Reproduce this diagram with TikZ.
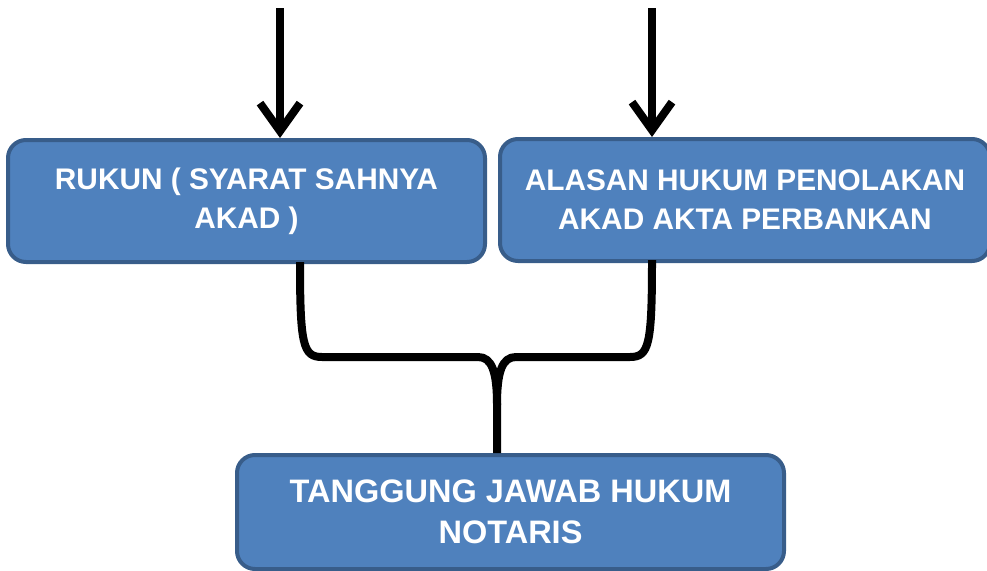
\documentclass[tikz,border=0pt]{standalone}
\usepackage{fontspec}
\setmainfont{Liberation Sans}
\usetikzlibrary{arrows.meta,calc}
\definecolor{boxfill}{HTML}{4F81BD}
\definecolor{boxline}{HTML}{385D8A}
\tikzset{
  bluebox/.style={draw=boxline, fill=boxfill, line width=4pt, rounded corners=18pt,
    text=white, align=center, font=\bfseries\fontsize{29.8}{39}\selectfont, inner sep=0pt},
  flowarrow/.style={line width=8pt, -{Straight Barb[length=28pt,width=40pt,line width=8pt]}},
  bracket/.style={line width=8pt, line join=round}
}
\begin{document}
\begin{tikzpicture}[x=1pt,y=-1pt]
\useasboundingbox (0,0) rectangle (987,570);
\node[bluebox, minimum width=477pt, minimum height=122pt] (b1) at (246.5,201) {RUKUN ( SYARAT SAHNYA\\AKAD )};
\node[bluebox, minimum width=490pt, minimum height=122pt] (b2) at (745,200) {ALASAN HUKUM PENOLAKAN\\AKAD AKTA PERBANKAN};
\node[bluebox, minimum width=547pt, minimum height=114pt, font=\bfseries\fontsize{32.5}{41}\selectfont] (b3) at (510.5,512) {TANGGUNG JAWAB HUKUM\\NOTARIS};
\coordinate (s1) at (280,8);
\coordinate (s2) at (652,8);
\draw[flowarrow] (s1) -- (s1 |- b1.north);
\draw[flowarrow] (s2) -- (s2 |- b2.north);
\coordinate (l0) at (300,262);
\coordinate (r0) at (652,260);
\coordinate (m) at (497,405);
\draw[bracket] (l0) .. controls (300,345) and (303,357) .. (322,357) -- (478,357)
  .. controls (492,357) and (497,372) .. (m) -- (m |- b3.north);
\draw[bracket] (r0) .. controls (652,345) and (649,357) .. (630,357) -- (516,357)
  .. controls (502,357) and (497,372) .. (m);
\end{tikzpicture}
\end{document}
